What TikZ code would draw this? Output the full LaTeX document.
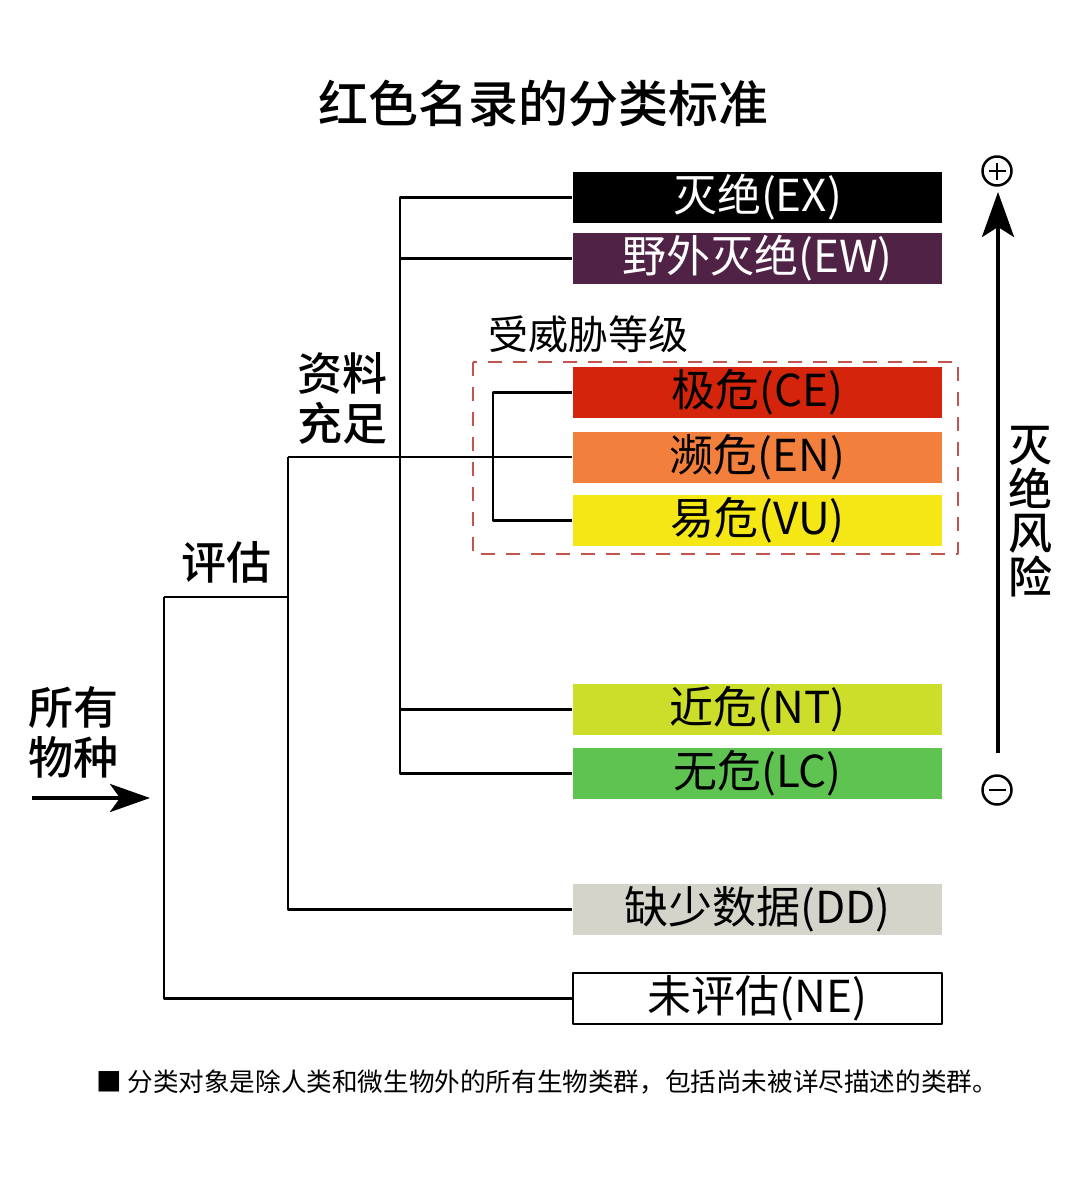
\documentclass[tikz,border=0pt]{standalone}
\usepackage{fontspec}
\setmainfont{Noto Sans CJK SC}
\newfontfamily\medfont{Noto Sans CJK SC Medium}
\usetikzlibrary{arrows.meta}
\definecolor{exblack}{RGB}{0,0,0}
\definecolor{ewpurple}{RGB}{80,35,70}
\definecolor{cered}{RGB}{212,36,12}
\definecolor{enorange}{RGB}{243,127,60}
\definecolor{vuyellow}{RGB}{245,230,22}
\definecolor{ntlime}{RGB}{205,222,42}
\definecolor{lcgreen}{RGB}{95,195,82}
\definecolor{ddgrey}{RGB}{212,212,202}
\definecolor{dashred}{RGB}{196,84,78}
\begin{document}
\begin{tikzpicture}[x=1pt,y=-1pt,line width=2.2pt,line join=round,
  cat/.style={minimum width=369pt,minimum height=51pt,inner sep=0pt,font=\fontsize{44}{48}\selectfont},
  lbl/.style={font=\fontsize{45}{50}\selectfont\medfont,align=center,inner sep=0pt},
  sign/.style={circle,draw,line width=2.5pt,minimum size=29pt,inner sep=0pt}]
\useasboundingbox (0,0) rectangle (1080,1180);
\def\bx{757.5} % box centre
\node[font=\fontsize{50}{54}\selectfont\medfont] (title) at (543,103) {红色名录的分类标准};
% categories
\node[cat,fill=exblack,text=white] (ex) at (\bx,197.5) {灭绝(EX)};
\node[cat,fill=ewpurple,text=white] (ew) at (\bx,258.5) {野外灭绝(EW)};
\node[cat,fill=cered] (ce) at (\bx,392.5) {极危(CE)};
\node[cat,fill=enorange] (en) at (\bx,457) {濒危(EN)};
\node[cat,fill=vuyellow] (vu) at (\bx,520.5) {易危(VU)};
\node[cat,fill=ntlime] (nt) at (\bx,709.5) {近危(NT)};
\node[cat,fill=lcgreen] (lc) at (\bx,773.5) {无危(LC)};
\node[cat,fill=ddgrey] (dd) at (\bx,909.5) {缺少数据(DD)};
\node[cat,draw=black,line width=1.6pt] (ne) at (\bx,998.5) {未评估(NE)};
% tree
\coordinate (a1) at (164,597);
\coordinate (b1) at (288,597);
\coordinate (b0) at (288,457);
\coordinate (c) at (400,457);
\coordinate (d) at (493,457);
\draw (a1) |- (ne.west);
\draw (a1) -- (b1);
\draw (b0) |- (dd.west);
\draw (b0) -- (en.west);
\draw (ex.west) -| (c) |- (lc.west);
\draw (ew.west) -- (ew.west -| c);
\draw (nt.west) -- (nt.west -| c);
\draw (ce.west) -| (d) |- (vu.west);
% labels
\node[lbl] (eval) at (226,562) {评估};
\node[lbl] (suff) at (342,398) {资料\\充足};
\node[lbl] (all) at (73,732) {所有\\物种};
\node[font=\fontsize{40}{44}\selectfont,inner sep=0pt] (thr) at (588,334) {受威胁等级};
\draw[dashred,line width=2pt,dash pattern=on 14pt off 11pt] (473,362) rectangle (958,554);
% input arrow
\coordinate (in0) at (32,798);
\coordinate (in1) at (150,798);
\draw[line width=4pt,-{Stealth[length=40pt,width=28pt,inset=10pt]}] (in0) -- (in1);
% risk axis
\node[sign] (plus) at (997,171) {};
\node[sign] (minus) at (997,790) {};
\draw[line width=2.5pt] ([xshift=-8.5pt]plus.center) -- ([xshift=8.5pt]plus.center);
\draw[line width=2.5pt] ([yshift=-8.5pt]plus.center) -- ([yshift=8.5pt]plus.center);
\draw[line width=2.5pt] ([xshift=-8.5pt]minus.center) -- ([xshift=8.5pt]minus.center);
\coordinate (lo) at (998,753);
\coordinate (hi) at (998,192);
\draw[line width=4pt,-{Stealth[length=45pt,width=32pt,inset=10pt]}] (lo) -- (hi);
\node[lbl,font=\fontsize{44}{44}\selectfont\medfont] (risk) at (1030,512) {灭\\绝\\风\\险};
% footnote
\node[font=\fontsize{25.6}{28}\selectfont,anchor=west,inner sep=0pt] (note) at (95,1082) {■ 分类对象是除人类和微生物外的所有生物类群，包括尚未被详尽描述的类群。};
\end{tikzpicture}
\end{document}
